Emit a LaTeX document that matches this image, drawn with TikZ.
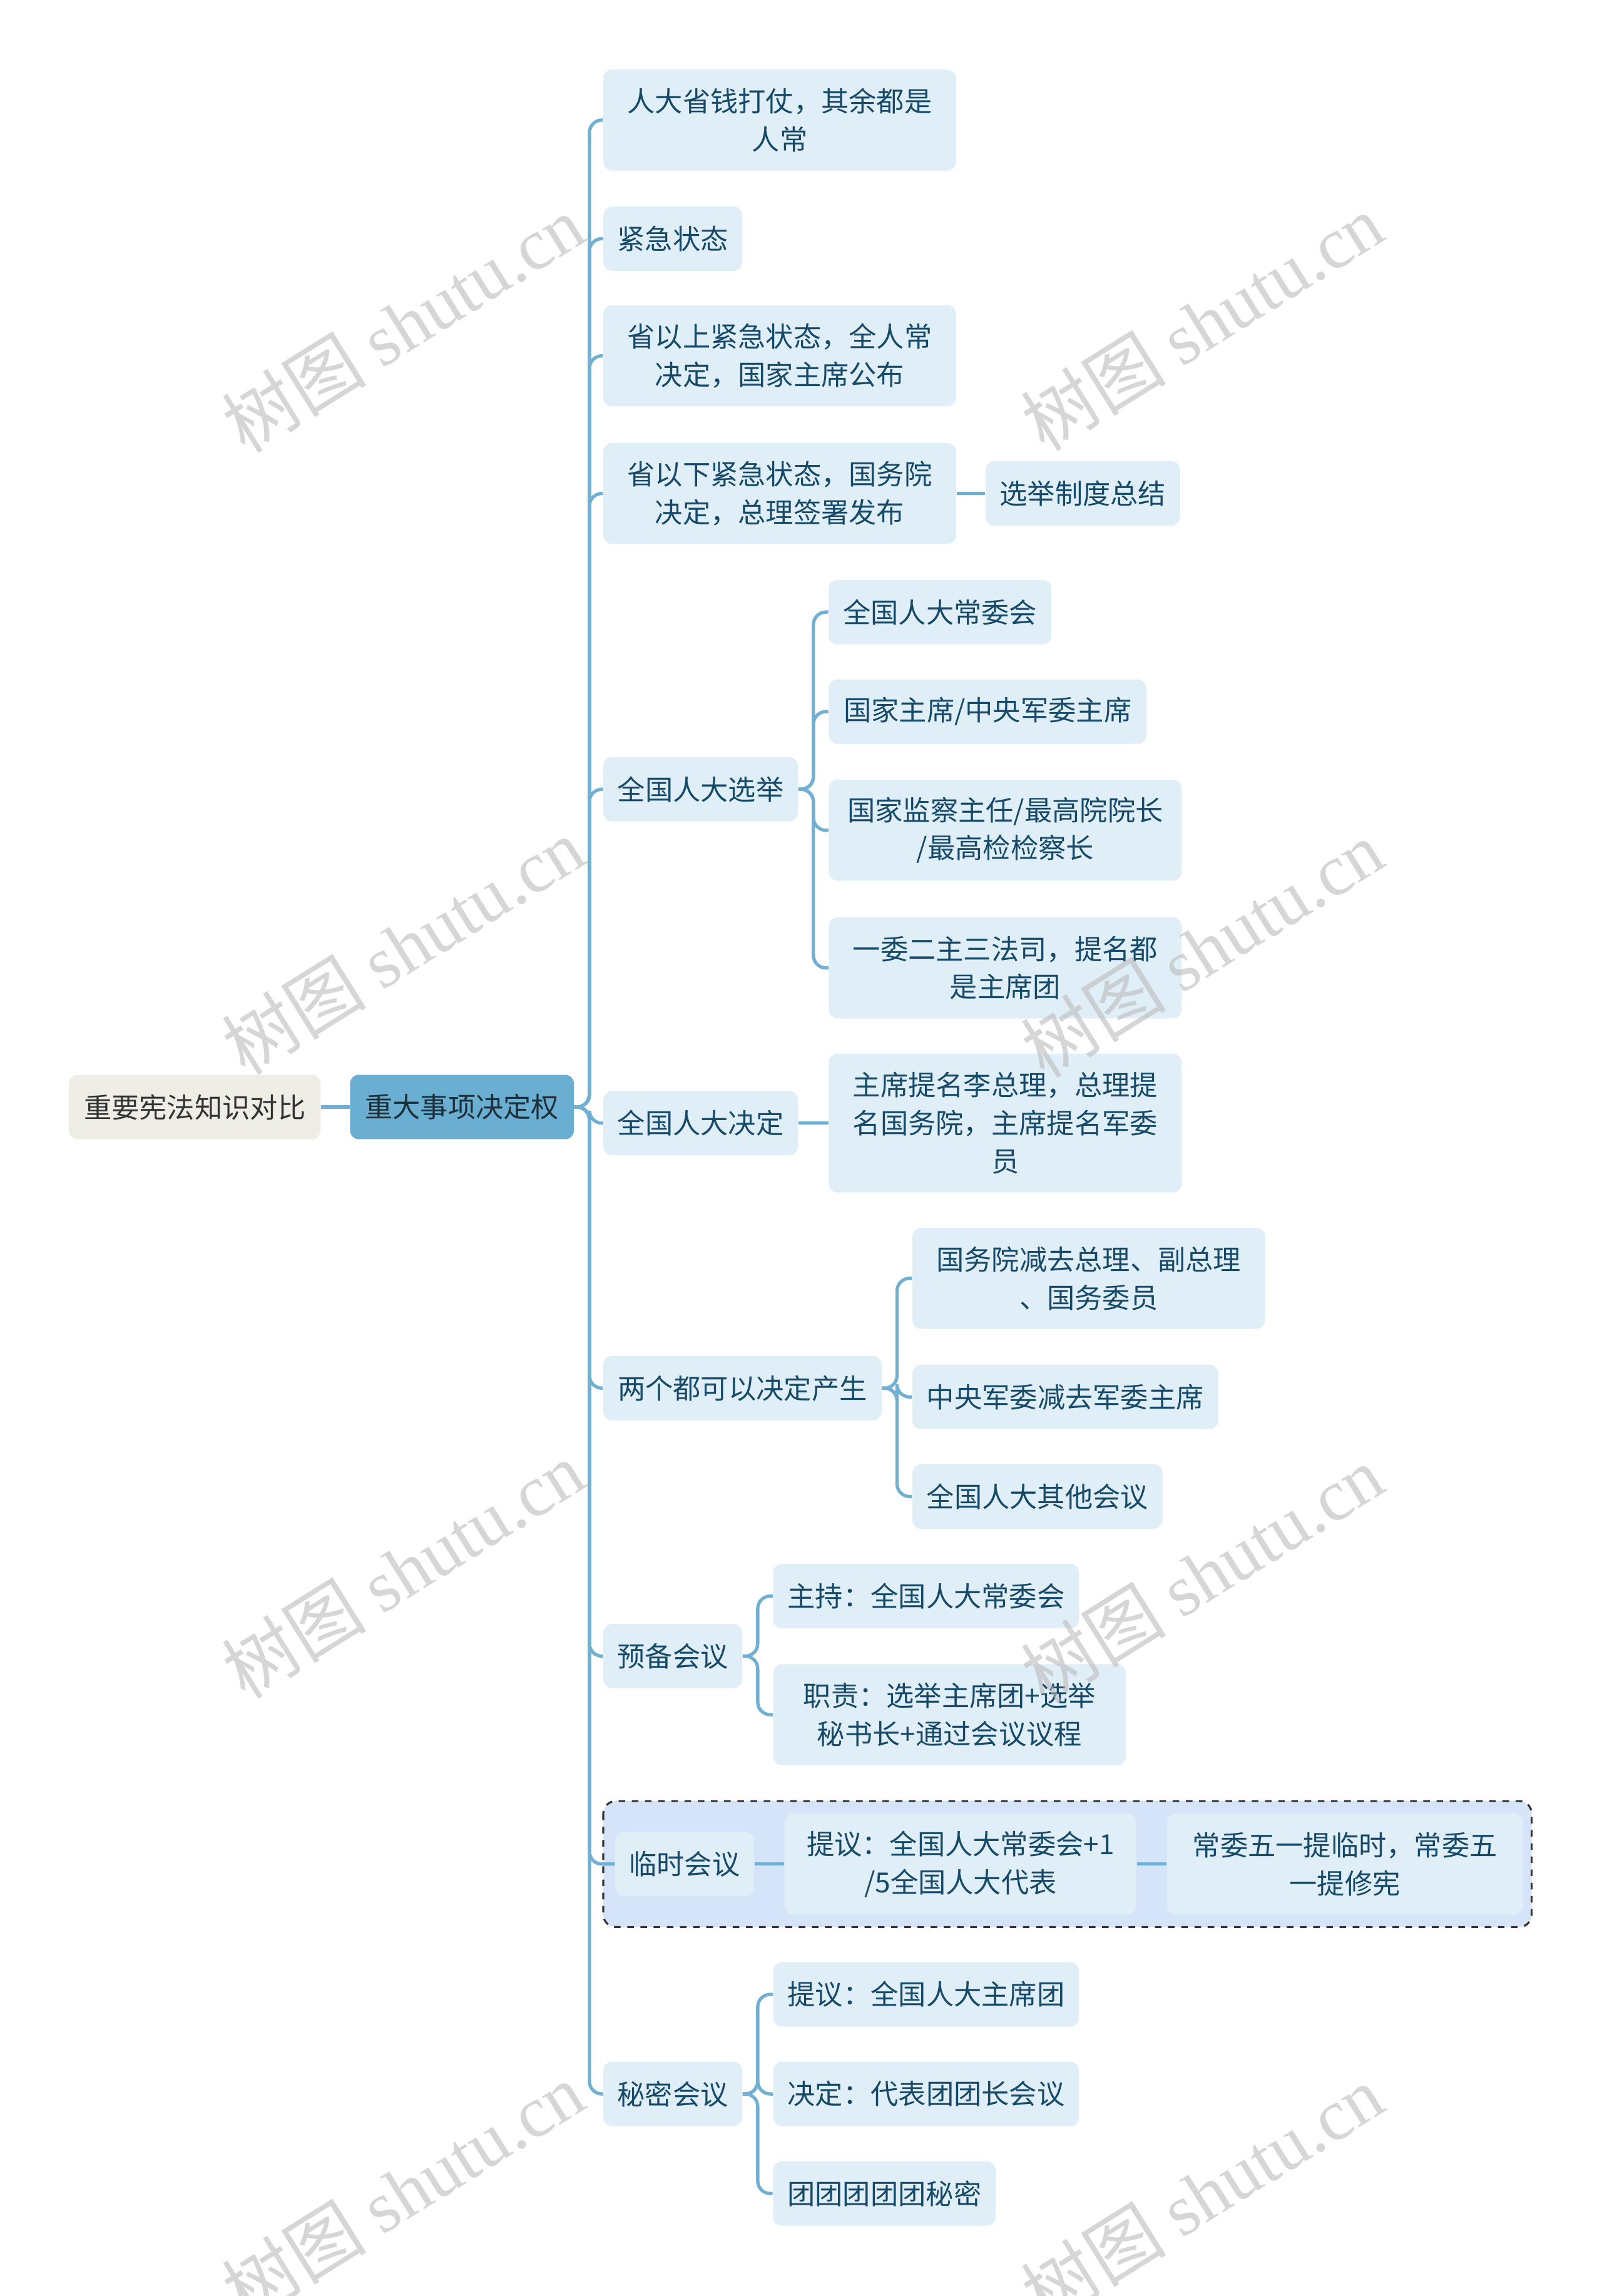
\documentclass[tikz,border=0pt]{standalone}
\usepackage{fontspec}
\setmainfont{Noto Sans CJK SC}
\newfontfamily\wmfont{Liberation Serif}
\newfontfamily\wmcjk{Noto Sans CJK SC}
\definecolor{nodefill}{HTML}{E0EEF7}
\definecolor{nodetext}{HTML}{164A68}
\definecolor{linecol}{HTML}{72B0D3}
\definecolor{rootfill}{HTML}{EEEEE6}
\definecolor{roottext}{HTML}{333333}
\definecolor{mainfill}{HTML}{6AAFD1}
\definecolor{maintext}{HTML}{1E2F3A}
\definecolor{groupfill}{HTML}{D6E4FA}
\definecolor{wmcol}{HTML}{BBBBBB}
\newcommand\mmlink[2]{\draw[conn] (#1.east) -- ++(0.24cm,0) |- (#2.west);}
\begin{document}
\begin{tikzpicture}[x=0.0234cm,y=-0.0234cm,
  box/.style={rounded corners=0.14cm, fill=nodefill, text=nodetext, align=center,
    inner sep=0pt, minimum height=1.03cm, font=\fontsize{12.6}{17.3}\selectfont},
  two/.style={minimum height=1.615cm},
  three/.style={minimum height=2.22cm},
  conn/.style={draw=linecol, line width=1.5pt, rounded corners=0.2cm},
  wm/.style={text=wmcol, rotate=32, font=\fontsize{33}{33}\selectfont, opacity=0.6}]
\useasboundingbox (0,0) rectangle (1094,1568);
\fill[white] (0,0) rectangle (1094,1568);

% group box
\draw[fill=groupfill, draw=black!80, dashed, line width=0.9pt, rounded corners=0.2cm]
  (412,1230) rectangle (1046,1316);

% root and main
\node[box, fill=rootfill, text=roottext, minimum width=4.025cm] (root) at (133,756) {重要宪法知识对比};
\node[box, fill=mainfill, text=maintext, minimum width=3.58cm] (main) at (315.5,756) {重大事项决定权};

% level 2
\node[box, two, minimum width=5.64cm] (n1) at (532.5,82) {人大省钱打仗，其余都是\\人常};
\node[box, minimum width=2.22cm] (n2) at (459.5,163) {紧急状态};
\node[box, two, minimum width=5.64cm] (n3) at (532.5,243) {省以上紧急状态，全人常\\决定，国家主席公布};
\node[box, two, minimum width=5.64cm] (n4) at (532.5,337) {省以下紧急状态，国务院\\决定，总理签署发布};
\node[box, minimum width=3.11cm] (n4a) at (739.5,337) {选举制度总结};

\node[box, minimum width=3.11cm] (n5) at (478.5,539) {全国人大选举};
\node[box, minimum width=3.56cm] (n5a) at (642,418) {全国人大常委会};
\node[box, minimum width=5.08cm] (n5b) at (674.5,486) {国家主席/中央军委主席};
\node[box, two, minimum width=5.64cm] (n5c) at (686.5,567) {国家监察主任/最高院院长\\/最高检检察长};
\node[box, two, minimum width=5.64cm] (n5d) at (686.5,661) {一委二主三法司，提名都\\是主席团};

\node[box, minimum width=3.11cm] (n6) at (478.5,767) {全国人大决定};
\node[box, three, minimum width=5.64cm] (n6a) at (686.5,767) {主席提名李总理，总理提\\名国务院，主席提名军委\\员};

\node[box, minimum width=4.45cm] (n7) at (507,948) {两个都可以决定产生};
\node[box, two, minimum width=5.64cm] (n7a) at (743.5,873) {国务院减去总理、副总理\\、国务委员};
\node[box, minimum width=4.89cm] (n7b) at (727.5,954) {中央军委减去军委主席};
\node[box, minimum width=4.00cm] (n7c) at (708.5,1022) {全国人大其他会议};

\node[box, minimum width=2.22cm] (n8) at (459.5,1131) {预备会议};
\node[box, minimum width=4.89cm] (n8a) at (632.5,1090) {主持：全国人大常委会};
\node[box, two, minimum width=5.64cm] (n8b) at (648.5,1171) {职责：选举主席团+选举\\秘书长+通过会议议程};

\node[box, minimum width=2.22cm] (n9) at (467.5,1273) {临时会议};
\node[box, two, minimum width=5.62cm] (n9a) at (656,1273) {提议：全国人大常委会+1\\/5全国人大代表};
\node[box, two, minimum width=5.69cm] (n9b) at (918.5,1273) {常委五一提临时，常委五\\一提修宪};

\node[box, minimum width=2.22cm] (n10) at (459.5,1430) {秘密会议};
\node[box, minimum width=4.89cm] (n10a) at (632.5,1362) {提议：全国人大主席团};
\node[box, minimum width=4.89cm] (n10b) at (632.5,1430) {决定：代表团团长会议};
\node[box, minimum width=3.56cm] (n10c) at (604,1498) {团团团团团秘密};

% connectors
\draw[conn] (root.east) -- (main.west);
\foreach \c in {n1,n2,n3,n4,n5,n6,n7,n8,n9,n10} {\mmlink{main}{\c}}
\draw[conn] (n4.east) -- (n4a.west);
\foreach \c in {n5a,n5b,n5c,n5d} {\mmlink{n5}{\c}}
\draw[conn] (n6.east) -- (n6a.west);
\foreach \c in {n7a,n7b,n7c} {\mmlink{n7}{\c}}
\foreach \c in {n8a,n8b} {\mmlink{n8}{\c}}
\draw[conn] (n9.east) -- (n9a.west);
\draw[conn] (n9a.east) -- (n9b.west);
\foreach \c in {n10a,n10b,n10c} {\mmlink{n10}{\c}}

% watermarks
\node[wm] (wm1) at (275,221) {\wmcjk 树图\ \wmfont shutu.cn};
\node[wm] (wm2) at (821,220) {\wmcjk 树图\ \wmfont shutu.cn};
\node[wm] (wm3) at (275,646) {\wmcjk 树图\ \wmfont shutu.cn};
\node[wm] (wm4) at (821,648) {\wmcjk 树图\ \wmfont shutu.cn};
\node[wm] (wm5) at (275,1072) {\wmcjk 树图\ \wmfont shutu.cn};
\node[wm] (wm6) at (821,1075) {\wmcjk 树图\ \wmfont shutu.cn};
\node[wm] (wm7) at (275,1496) {\wmcjk 树图\ \wmfont shutu.cn};
\node[wm] (wm8) at (821,1498) {\wmcjk 树图\ \wmfont shutu.cn};
\end{tikzpicture}
\end{document}
